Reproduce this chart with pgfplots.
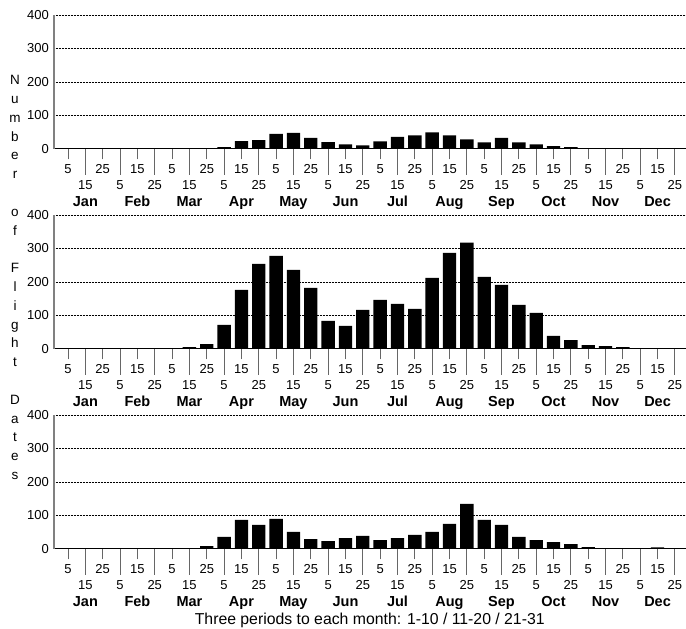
\documentclass[border=0pt]{standalone}
\usepackage{fontspec}
\setmainfont{Liberation Sans}
\usepackage{pgfplots}
\pgfplotsset{compat=1.18}

\pgfplotsset{panel/.style={
  scale only axis, width=632pt, height=133.7pt, anchor=south west,
  xmin=-0.81, xmax=35.64, ymin=0, ymax=400,
  ytick={0,100,200,300,400},
  axis x line*=bottom, axis y line*=left,
  x axis line style={black, line width=0.8pt},
  y axis line style={gray, line width=1.3pt},
  ymajorgrids,
  grid style={black, line width=0.5pt, dash pattern=on 0.5pt off 1pt},
  ytick style={draw=none},
  tick align=outside,
  major tick length=10.7pt,
  xtick={0,2,...,34},
  xticklabels={5,25,15,5,25,15,5,25,15,5,25,15,5,25,15,5,25,15},
  extra x ticks={1,3,...,35},
  extra x tick labels={15,5,25,15,5,25,15,5,25,15,5,25,15,5,25,15,5,25},
  extra x tick style={major tick length=26.3pt, tick style={gray!80!black, line width=0.9pt}},
  xtick style={gray!80!black, line width=0.9pt},
  xticklabel style={font=\fontsize{13}{15}\selectfont, anchor=center, inner sep=0pt, yshift=-9.9pt},
  yticklabel style={font=\fontsize{13}{15}\selectfont, anchor=east, inner sep=0pt, xshift=5.7pt},
  /pgf/number format/assume math mode=true,
  ybar, bar width=0.77,
  clip=false,
}}
\tikzset{mlab/.style={font=\fontsize{14.5}{16}\selectfont\bfseries, anchor=base, inner sep=0pt, yshift=-57.8pt}}
\newcommand\monthlabels{%
  \node[mlab] at (axis cs:1,0) {Jan};
  \node[mlab] at (axis cs:4,0) {Feb};
  \node[mlab] at (axis cs:7,0) {Mar};
  \node[mlab] at (axis cs:10,0) {Apr};
  \node[mlab] at (axis cs:13,0) {May};
  \node[mlab] at (axis cs:16,0) {Jun};
  \node[mlab] at (axis cs:19,0) {Jul};
  \node[mlab] at (axis cs:22,0) {Aug};
  \node[mlab] at (axis cs:25,0) {Sep};
  \node[mlab] at (axis cs:28,0) {Oct};
  \node[mlab] at (axis cs:31,0) {Nov};
  \node[mlab] at (axis cs:34,0) {Dec};
}

\begin{document}
\begin{tikzpicture}
\path[use as bounding box] (0pt,0pt) rectangle (686pt,629pt);

% Panel 1
\begin{axis}[panel, at={(54pt,480.3pt)}]
\addplot[fill=black, draw=none] coordinates {
 (9,5) (10,23) (11,26) (12,44) (13,47) (14,32) (15,20) (16,13) (17,10)
 (18,22) (19,35) (20,40) (21,49) (22,40) (23,28) (24,19) (25,32) (26,19)
 (27,13) (28,8) (29,5)};
\monthlabels
\end{axis}

% Panel 2
\begin{axis}[panel, at={(54pt,280.3pt)}]
\addplot[fill=black, draw=none] coordinates {
 (7,5) (8,14) (9,71) (10,176) (11,254) (12,278) (13,236) (14,182) (15,83)
 (16,68) (17,116) (18,146) (19,134) (20,119) (21,212) (22,287) (23,317)
 (24,215) (25,191) (26,131) (27,107) (28,38) (29,26) (30,11) (31,8) (32,5)};
\monthlabels
\end{axis}

% Panel 3
\begin{axis}[panel, at={(54pt,80.3pt)}]
\addplot[fill=black, draw=none] coordinates {
 (8,8) (9,35) (10,86) (11,71) (12,89) (13,50) (14,29) (15,23) (16,32)
 (17,38) (18,26) (19,32) (20,41) (21,50) (22,74) (23,134) (24,86) (25,71)
 (26,35) (27,26) (28,20) (29,14) (30,5) (34,4)};
\monthlabels
\node[font=\fontsize{15.8}{17}\selectfont, anchor=base, inner sep=0pt] at (axis cs:17.4,0) [yshift=-76pt] {Three periods to each month: 1-10 / 11-20 / 21-31};
\end{axis}

% vertical label
\node[font=\fontsize{13.5}{18.8}\selectfont, align=center, anchor=center, inner sep=0pt]
 at (15pt,351.5pt) {N\\u\\m\\b\\e\\r\\~\\o\\f\\~\\F\\l\\i\\g\\h\\t\\~\\D\\a\\t\\e\\s};
\end{tikzpicture}
\end{document}
